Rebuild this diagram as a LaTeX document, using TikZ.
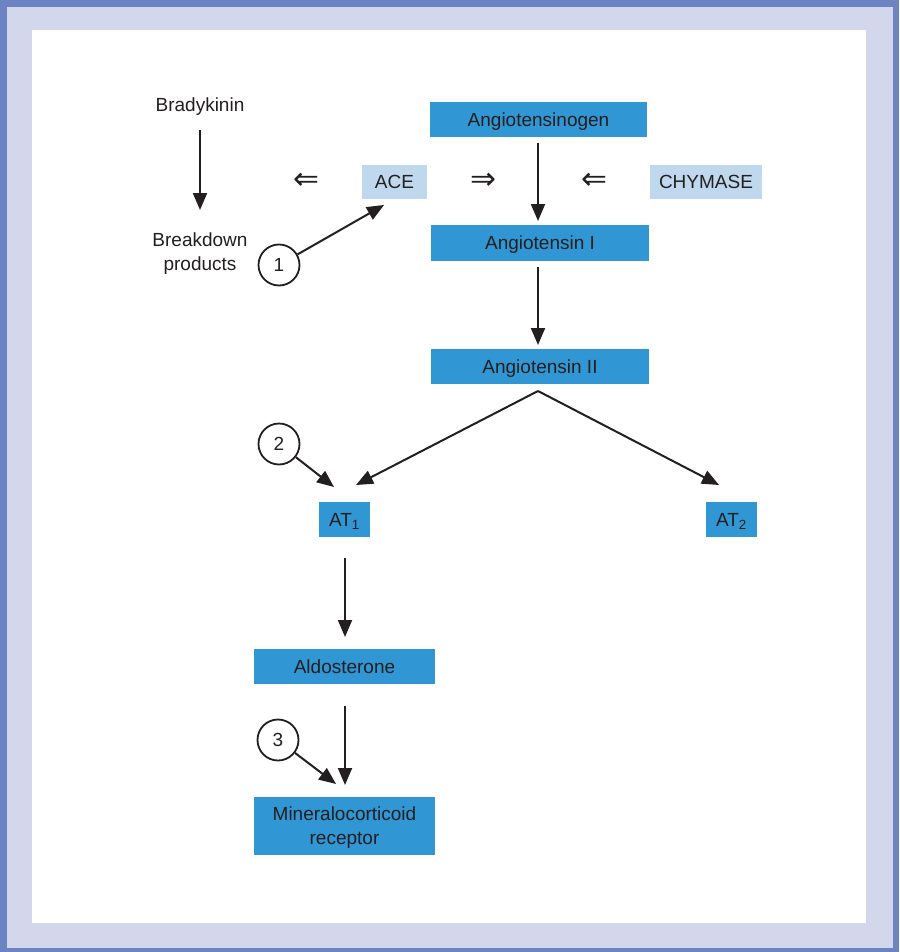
\documentclass[tikz,border=0pt]{standalone}
\usepackage{fontspec}
\setmainfont{Liberation Sans}
\newfontfamily\symfont{DejaVu Sans}
\usetikzlibrary{arrows.meta}
\definecolor{frameDark}{HTML}{6D84C3}
\definecolor{frameLight}{HTML}{D2D7EC}
\definecolor{boxDark}{HTML}{3096D4}
\definecolor{boxLight}{HTML}{C0D8EE}
\definecolor{ink}{HTML}{231F20}
\begin{document}
\begin{tikzpicture}[x=1pt,y=-1pt,
  txt/.style={text=ink,font=\fontsize{19}{24}\selectfont,inner sep=0pt,align=center,text depth=0pt},
  darkbox/.style={fill=boxDark,txt,minimum height=35pt},
  lightbox/.style={fill=boxLight,txt,minimum height=34pt},
  num/.style={circle,draw=ink,line width=1.8pt,minimum size=41pt,inner sep=0pt,fill=white,txt},
  arr/.style={draw=ink,line width=2pt,-{Triangle[length=17pt,width=14pt]}},
  dbl/.style={text=ink,inner sep=0pt,font=\symfont\fontsize{31}{31}\selectfont}]
% frame
\useasboundingbox (0,0) rectangle (899,952);
\fill[frameDark] (0,0) rectangle (899,952);
\fill[frameLight] (7,7) rectangle (893,948);
\fill[white] (32,30) rectangle (866,923);
% nodes
\node[txt] (brady) at (200,105) {Bradykinin};
\node[txt] (brk) at (200,252) {Breakdown\\products};
\coordinate (bradyA) at (200,130);
\coordinate (bradyB) at (200,210);
\node[num] (c1) at (279,265) {1};
\node[dbl] (la1) at (306,181) {⇐};
\node[lightbox,minimum width=65pt] (ace) at (394.5,182) {ACE};
\node[dbl] (ra) at (483,181) {⇒};
\node[dbl] (la2) at (594,181) {⇐};
\node[lightbox,minimum width=112pt] (chy) at (706,182) {CHYMASE};
\node[darkbox,minimum width=217pt] (agen) at (538.5,119.5) {Angiotensinogen};
\node[darkbox,minimum width=218pt,minimum height=36pt] (ang1) at (540,243) {Angiotensin I};
\node[darkbox,minimum width=218pt] (ang2) at (540,366.5) {Angiotensin II};
\node[num] (c2) at (279,444) {2};
\node[darkbox,minimum width=51pt] (at1) at (344.5,519.5) {AT\textsubscript{1}};
\node[darkbox,minimum width=51pt] (at2) at (731.5,519.5) {AT\textsubscript{2}};
\node[darkbox,minimum width=181pt] (ald) at (344.5,666.5) {Aldosterone};
\node[num] (c3) at (278,740) {3};
\node[darkbox,minimum width=181pt,minimum height=58pt] (mr) at (344.5,826) {Mineralocorticoid\\receptor};
% connector end points
\coordinate (aceT) at (384,205);
\coordinate (p1a) at (538,143);
\coordinate (p1b) at (538,221);
\coordinate (p2a) at (538,267);
\coordinate (p2b) at (538,345);
\coordinate (split) at (538,391);
\coordinate (at1T) at (356,485);
\coordinate (at2T) at (719,485);
\coordinate (c2T) at (334,487);
\coordinate (p3a) at (345,558);
\coordinate (p3b) at (345,637);
\coordinate (p4a) at (345,706);
\coordinate (p4b) at (345,785);
\coordinate (c3T) at (336,784);
% connectors
\draw[arr] (bradyA) -- (bradyB);
\draw[arr] (c1) -- (aceT);
\draw[arr] (p1a) -- (p1b);
\draw[arr] (p2a) -- (p2b);
\draw[arr] (split) -- (at1T);
\draw[arr] (split) -- (at2T);
\draw[arr] (c2) -- (c2T);
\draw[arr] (p3a) -- (p3b);
\draw[arr] (p4a) -- (p4b);
\draw[arr] (c3) -- (c3T);
\end{tikzpicture}
\end{document}
